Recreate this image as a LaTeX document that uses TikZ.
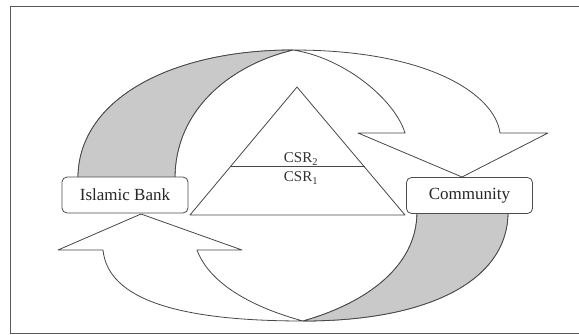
\documentclass[tikz,border=0pt]{standalone}
\usepackage{fontspec}
\setmainfont{Liberation Serif}
\begin{document}
\begin{tikzpicture}[x=1pt,y=-1pt,
  edge/.style={draw=black!72,line width=0.8pt,line join=round},
  band/.style={edge,fill=white},
  shade/.style={edge,fill=black!21},
  labelbox/.style={draw=black!70,line width=0.8pt,fill=white,rounded corners=5pt,
    minimum width=126pt,minimum height=36pt,inner sep=0pt,
    font=\fontsize{17}{20}\selectfont,text=black!85},
  csr/.style={inner sep=0pt,font=\fontsize{15}{17}\selectfont,text=black!80}]
\useasboundingbox (0,0) rectangle (579,335);
\draw[black!65,line width=1pt] (10.5,6) rectangle (590,333);
% upper curved arrow
\path[band] (78,178) .. controls (78,100) and (170,50) .. (293,50)
  .. controls (430,50) and (495,95) .. (500,133) -- (548,133) -- (462,177)
  -- (358,133) -- (405,133) .. controls (395,100) and (345,58) .. (293,50)
  .. controls (230,65) and (175,110) .. (175,178) -- cycle;
\path[shade] (78,178) .. controls (78,100) and (170,50) .. (293,50)
  .. controls (230,65) and (175,110) .. (175,178) -- cycle;
% lower curved arrow
\path[band] (508,212) .. controls (508,280) and (430,321) .. (303,321)
  .. controls (180,321) and (108,300) .. (103,250) -- (58,250) -- (141,214)
  -- (242,250) -- (197,250) .. controls (210,285) and (255,308) .. (303,321)
  .. controls (360,305) and (417,270) .. (417,212) -- cycle;
\path[shade] (508,212) .. controls (508,280) and (430,321) .. (303,321)
  .. controls (360,305) and (417,270) .. (417,212) -- cycle;
% triangle
\coordinate (apex) at (297,87);
\coordinate (bl) at (190,215);
\coordinate (br) at (405,215);
\draw[edge] (apex) -- (bl) -- (br) -- cycle;
\coordinate (dl) at (230,166.7);
\coordinate (dr) at (364.5,166.7);
\draw[edge] (dl) -- (dr);
\node[csr] (csr2) at (301,159) {CSR\textsubscript{2}};
\node[csr] (csr1) at (301,178) {CSR\textsubscript{1}};
% boxes
\node[labelbox] (bank) at (125,195) {Islamic Bank};
\node[labelbox] (community) at (469.5,195.5) {Community};
\end{tikzpicture}
\end{document}
